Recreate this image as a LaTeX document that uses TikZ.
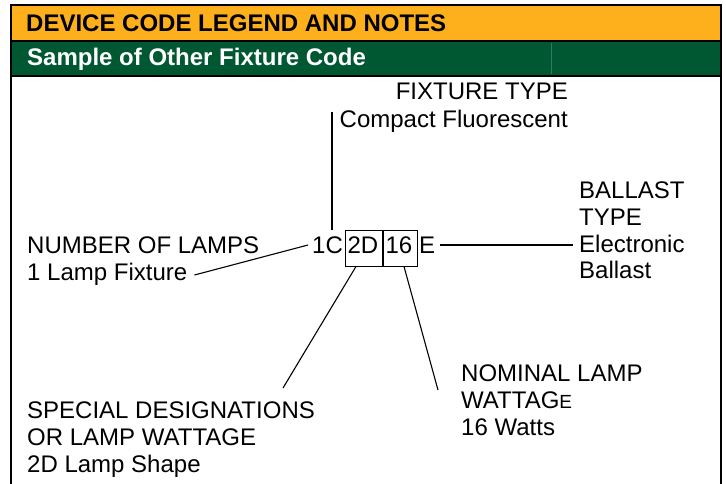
\documentclass[tikz,border=0pt]{standalone}
\usepackage{fontspec}
\setmainfont{Liberation Sans}
\definecolor{hdrorange}{RGB}{253,176,27}
\definecolor{hdrgreen}{RGB}{0,88,50}
\tikzset{
  lbl/.style={anchor=base west,inner sep=0pt,font=\fontsize{24}{28}\selectfont},
  rlbl/.style={lbl,anchor=base east},
  codebox/.style={lbl,draw,line width=1pt,inner xsep=2pt,inner ysep=6pt,text height=17pt,text depth=7pt,align=left},
  conn/.style={line width=1.1pt}
}
\begin{document}
\begin{tikzpicture}[x=1pt,y=-1pt]
\useasboundingbox (0,0) rectangle (726,483);
\fill[hdrorange] (11,5) rectangle (721,41);
\fill[hdrgreen] (11,41) rectangle (721,76);
\draw[hdrgreen!80!white,line width=0.4pt] (551,43)--(551,74);
\draw[line width=2pt] (11,41)--(721,41);
\draw[line width=2pt] (11,76)--(721,76);
\draw[line width=2.5pt] (11,5) rectangle (721,500);
\node[lbl,font=\fontsize{24}{28}\selectfont\bfseries] (hdr) at (26,31) {DEVICE CODE LEGEND AND NOTES};
\node[lbl,font=\fontsize{24}{28}\selectfont\bfseries,text=white] (sub) at (27,65) {Sample of Other Fixture Code};
\node[rlbl] (fixtype) at (568,99) {FIXTURE TYPE};
\node[rlbl] (fixdesc) at (568,127) {Compact Fluorescent};
\node[lbl] (lamps) at (27,253) {NUMBER OF LAMPS};
\node[lbl] (lampsdesc) at (27,280) {1 Lamp Fixture};
\node[lbl] (code1c) at (312,253) {1C};
\node[codebox,text width=33pt] (code2d) at (345,253) {2D};
\node[codebox,text width=30pt] (code16) at (code2d.base east) {16};
\node[lbl] (codee) at ([xshift=1pt]code16.base east) {E};
\node[lbl] (balA) at (579,198) {BALLAST};
\node[lbl] (balB) at (579,225) {TYPE};
\node[lbl] (balC) at (579,252) {Electronic};
\node[lbl] (balD) at (579,278) {Ballast};
\node[lbl] (wattA) at (461,381) {NOMINAL LAMP};
\node[lbl] (wattB) at (461,408) {WATTAG{\fontsize{19}{20}\selectfont E}};
\node[lbl] (wattC) at (461,435) {16 Watts};
\node[lbl] (specA) at (27,418) {SPECIAL DESIGNATIONS};
\node[lbl] (specB) at (27,445) {OR LAMP WATTAGE};
\node[lbl] (specC) at (27,472) {2D Lamp Shape};
\coordinate (fixtop) at (332,112);
\coordinate (specend) at (283,388);
\coordinate (wattend) at (438,390);
\draw[conn] (fixtop)--(fixtop|-code2d.north);
\draw[conn] ([xshift=7pt,yshift=5pt]lampsdesc.base east)--([xshift=-4pt,yshift=8pt]code1c.base west);
\draw[conn] ([xshift=5pt,yshift=8pt]codee.base east)--([xshift=-6pt,yshift=7pt]balC.base west);
\draw[conn] ([xshift=11pt]code2d.south west)--(specend);
\draw[conn] ([xshift=21pt]code16.south west)--(wattend);
\end{tikzpicture}
\end{document}
